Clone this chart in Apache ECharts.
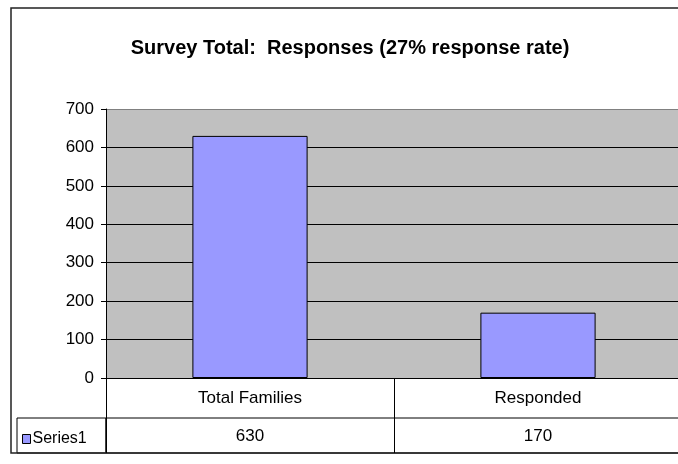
<!DOCTYPE html>
<html>
<head>
<meta charset="utf-8">
<script src="https://cdn.jsdelivr.net/npm/echarts@6/dist/echarts.min.js"></script>
<style>
  html, body { margin: 0; padding: 0; overflow: hidden; background: #fff; }
  #chart { width: 700px; height: 464px; }
</style>
</head>
<body>
<div id="chart"></div>
<script>
const titleText = 'Survey Total:  Responses (27% response rate)';
const categories = ['Total Families', 'Responded'];
const seriesName = 'Series1';
const responses = [630, 170];

const font = '"Liberation Sans", Arial, sans-serif';
const textBase = { fontFamily: font, fontSize: 17, color: '#000' };

const chart = echarts.init(document.getElementById('chart'));
chart.setOption({
  backgroundColor: '#fff',
  animation: false,
  title: {
    text: titleText,
    left: 'center',
    top: 33,
    textStyle: { ...textBase, fontSize: 20, fontWeight: 'bold' },
  },
  legend: {
    data: [seriesName],
    left: 17,
    top: 426,
    icon: 'rect',
    itemWidth: 8,
    itemHeight: 9,
    itemGap: 0,
    textStyle: { ...textBase, fontSize: 16, padding: [0, 0, 0, -3] },
    itemStyle: { borderColor: '#000', borderWidth: 1 },
  },
  grid: [
    // plot area
    { left: 106, top: 109, width: 576, height: 269, show: true, backgroundColor: '#c0c0c0', borderWidth: 0 },
    // data table: value row
    { left: 106, top: 418, width: 576, height: 35, show: true, borderColor: '#000', borderWidth: 1 },
    // data table: header row
    { left: 106, top: 378, width: 576, height: 40 },
  ],
  xAxis: [
    {
      type: 'category',
      data: categories,
      gridIndex: 0,
      axisLine: { lineStyle: { color: '#000', width: 1 } },
      axisTick: { show: false },
      axisLabel: { ...textBase, margin: 12 },
    },
    {
      type: 'category',
      data: responses.map(String),
      gridIndex: 1,
      axisLine: { show: false },
      axisTick: { show: false },
      axisLabel: { ...textBase, inside: true, margin: 8 },
      splitLine: { show: true, lineStyle: { color: '#000', width: 1 } },
    },
    {
      type: 'category',
      data: categories,
      gridIndex: 2,
      axisLine: { show: false },
      axisTick: { show: false },
      axisLabel: { show: false },
      splitLine: { show: true, lineStyle: { color: '#000', width: 1 } },
    },
  ],
  yAxis: [
    {
      type: 'value',
      gridIndex: 0,
      min: 0,
      max: 700,
      interval: 100,
      axisLine: { show: true, lineStyle: { color: '#000', width: 1 } },
      axisTick: { show: true, length: 5, lineStyle: { color: '#000' } },
      axisLabel: { ...textBase, margin: 12 },
      splitLine: {
        lineStyle: {
          color: ['#000', '#000', '#000', '#000', '#000', '#000', '#000', '#808080'],
          width: 1,
        },
      },
    },
    { type: 'value', gridIndex: 1, show: false },
    { type: 'value', gridIndex: 2, show: false },
  ],
  series: [
    {
      name: seriesName,
      type: 'bar',
      xAxisIndex: 0,
      yAxisIndex: 0,
      data: responses,
      barWidth: '40%',
      itemStyle: { color: '#9999ff', borderColor: '#000', borderWidth: 1 },
    },
  ],
  graphic: [
    // legend cell of the data table
    {
      type: 'rect',
      shape: { x: 17, y: 418, width: 89, height: 35 },
      style: { fill: 'none', stroke: '#000', lineWidth: 1 },
      silent: true,
    },
    // chart border
    {
      type: 'rect',
      shape: { x: 11, y: 8, width: 680, height: 445 },
      style: { fill: 'none', stroke: '#222', lineWidth: 1.5 },
      silent: true,
    },
  ],
});
</script>
</body>
</html>
